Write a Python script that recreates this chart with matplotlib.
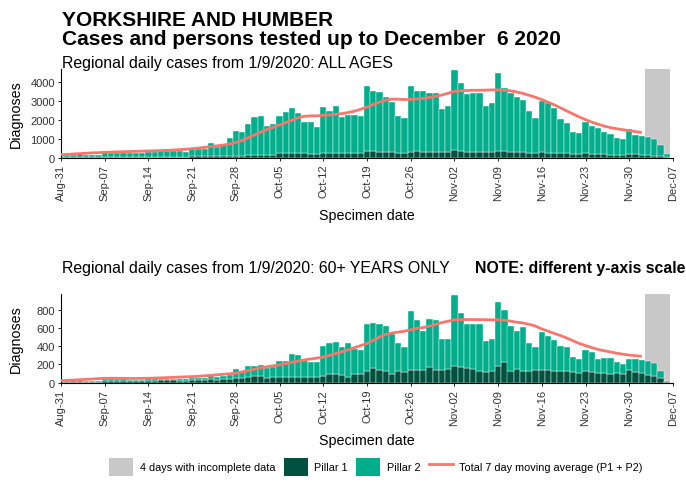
import numpy as np
import pandas as pd
import matplotlib
matplotlib.use("Agg")
import matplotlib.pyplot as plt
from matplotlib.patches import Patch
from matplotlib.lines import Line2D

plt.rcParams['font.family'] = ['Liberation Sans', 'DejaVu Sans']

# specimen dates, 31 Aug to 6 Dec 2020
dates = pd.date_range("2020-08-31", "2020-12-06", freq="D")
tick_labels = ["Aug-31", "Sep-07", "Sep-14", "Sep-21", "Sep-28", "Oct-05", "Oct-12",
               "Oct-19", "Oct-26", "Nov-02", "Nov-09", "Nov-16", "Nov-23", "Nov-30", "Dec-07"]

# ALL AGES
all_p1 = [30, 30, 35, 35, 30, 30, 30, 40, 40, 40, 40, 35, 35, 35, 45, 45, 50, 50, 50, 45, 45,
          60, 60, 70, 70, 80, 70, 80, 110, 110, 120, 130, 140, 120, 130,
          220, 230, 240, 230, 220, 200, 190, 240, 250, 250, 230, 240, 230, 220,
          330, 340, 320, 300, 290, 260, 250, 320, 330, 320, 310, 300, 270, 280,
          380, 360, 320, 320, 300, 270, 280, 370, 340, 300, 290, 280, 250, 240,
          270, 260, 250, 230, 220, 180, 170, 220, 200, 190, 170, 160, 140, 130,
          200, 170, 150, 130, 100, 60, 20]
all_p2 = [50, 90, 115, 135, 130, 120, 110, 280, 210, 220, 220, 205, 185, 195,
          255, 275, 290, 300, 310, 285, 275, 370, 390, 380, 680, 480, 580, 950,
          1310, 1220, 1650, 1990, 2040, 1530, 1620, 1980, 2160, 2380, 2110, 1640, 1660, 1410,
          2450, 2230, 2490, 1930, 2000, 2010, 1950, 3450, 3180, 3150, 2920, 2650, 1940, 1820,
          3460, 3190, 3200, 3120, 3130, 2280, 2450, 4240, 3560, 3020, 3060, 3080, 2460, 2590,
          4080, 3350, 3080, 2880, 2770, 2220, 1830, 2720, 2610, 2340, 1800, 1630, 1150, 1130,
          1670, 1480, 1350, 1200, 1080, 910, 850, 1300, 1040, 1000, 940, 880, 605, 170]
all_avg = [150, 170, 190, 210, 230, 250, 260, 280, 290, 300, 310, 320, 330, 340, 350, 360,
           370, 380, 400, 420, 440, 470, 500, 540, 580, 620, 660, 720, 800, 900, 1050, 1200,
           1350, 1480, 1600, 1720, 1850, 1980, 2100, 2180, 2200, 2200, 2230, 2250, 2280, 2320,
           2380, 2450, 2550, 2660, 2800, 2920, 3030, 3080, 3080, 3060, 3070, 3090, 3120, 3170,
           3230, 3300, 3390, 3490, 3520, 3540, 3550, 3550, 3560, 3570, 3570, 3550, 3520, 3460,
           3380, 3280, 3180, 3060, 2920, 2780, 2620, 2460, 2300, 2140, 2000, 1870, 1760, 1660,
           1580, 1520, 1470, 1420, 1370, 1320]

# 60+ YEARS ONLY
old_p1 = [8, 10, 12, 12, 10, 10, 10, 20, 18, 18, 18, 16, 16, 16, 22, 22, 25, 25, 25, 22, 22,
          30, 28, 30, 35, 32, 35, 40, 46, 50, 60, 68, 68, 55, 60, 60, 57, 57, 57, 57, 57, 60,
          68, 90, 100, 83, 60, 95, 95, 125, 160, 140, 125, 95, 125, 115,
          140, 140, 140, 176, 140, 140, 150, 187, 170, 160, 150, 125, 115, 130,
          187, 231, 125, 150, 125, 125, 140, 140, 140, 125, 125, 125, 115, 105,
          125, 115, 105, 105, 95, 105, 95, 140, 115, 105, 80, 70, 50, 10]
old_p2 = [7, 10, 13, 13, 10, 10, 10, 20, 17, 17, 17, 14, 14, 14, 18, 18, 20, 20, 20, 18, 18,
          25, 22, 16, 33, 25, 33, 43, 103, 80, 118, 117, 125, 105, 107,
          180, 183, 253, 245, 183, 165, 162, 330, 341, 342, 304, 373, 275, 268,
          515, 497, 500, 502, 441, 308, 281, 645, 550, 432, 524, 543, 340, 330,
          778, 597, 486, 496, 521, 347, 350, 697, 562, 502, 415, 491, 308, 250,
          414, 377, 345, 282, 271, 171, 155, 238, 219, 155, 166, 176, 119, 110,
          120, 145, 145, 162, 143, 75, 12]
old_avg = [22, 25, 28, 32, 36, 40, 44, 48, 48, 48, 47, 46, 46, 47, 48, 50, 52, 55, 58, 61,
           64, 66, 70, 75, 80, 86, 92, 98, 103, 118, 133, 148, 163, 175, 185, 195, 210, 225,
           238, 250, 260, 270, 280, 300, 320, 340, 360, 385, 407, 430, 465, 500, 530, 545,
           555, 565, 580, 595, 605, 620, 640, 660, 675, 690, 692, 693, 693, 692, 691, 690,
           690, 685, 675, 664, 655, 640, 620, 590, 565, 540, 517, 490, 460, 430, 407, 385,
           365, 350, 337, 323, 312, 303, 296, 290]

incomplete_days = 4

C_P1 = "#00513F"
C_P2 = "#00AE8C"
C_AVG = "#F8766D"
C_GREY = "#C8C8C8"

fig = plt.figure(figsize=(6.86, 4.85), dpi=100)

fig.text(0.0905, 0.946, "YORKSHIRE AND HUMBER", fontsize=15, fontweight="bold", va="baseline")
fig.text(0.0905, 0.907, "Cases and persons tested up to December  6 2020", fontsize=15,
         fontweight="bold", va="baseline")


def panel(rect, p1, p2, avg, ymax, yticks):
    ax = fig.add_axes(rect)
    x = np.arange(len(dates))
    n = len(dates)
    ax.axvspan(n - incomplete_days - 0.5, n - 0.5, color=C_GREY, lw=0, zorder=0)
    ax.bar(x, p1, width=1.0, color=C_P1, edgecolor="white", linewidth=0.3, zorder=2)
    ax.bar(x, p2, width=1.0, bottom=p1, color=C_P2, edgecolor="white", linewidth=0.3, zorder=2)
    ax.plot(np.arange(len(avg)), avg, color=C_AVG, lw=2, zorder=3, solid_capstyle="butt")
    ax.set_xlim(0, 98)
    ax.set_ylim(0, ymax)
    ax.set_xticks(np.arange(0, 99, 7))
    ax.set_xticklabels(tick_labels, rotation=90, fontsize=8, color="#333333")
    ax.set_yticks(yticks)
    ax.set_yticklabels([str(v) for v in yticks], fontsize=8, color="#333333")
    ax.tick_params(length=2.5, width=0.6, pad=2)
    for s in ["top", "right"]:
        ax.spines[s].set_visible(False)
    for s in ["left", "bottom"]:
        ax.spines[s].set_linewidth(0.8)
    ax.set_ylabel("Diagnoses", fontsize=10.3)
    ax.yaxis.set_label_coords(-0.063, 0.5)
    ax.set_xlabel("Specimen date", fontsize=10.3, labelpad=6)
    return ax


panel([0.089, 0.673, 0.892, 0.183], all_p1, all_p2, all_avg, 4680,
      [0, 1000, 2000, 3000, 4000])
fig.text(0.0905, 0.860, "Regional daily cases from 1/9/2020: ALL AGES", fontsize=11.4,
         va="baseline")

panel([0.089, 0.209, 0.892, 0.183], old_p1, old_p2, old_avg, 975,
      [0, 200, 400, 600, 800])
fig.text(0.0905, 0.437, "Regional daily cases from 1/9/2020: 60+ YEARS ONLY", fontsize=11.4,
         va="baseline")
fig.text(0.999, 0.437, "NOTE: different y-axis scale", fontsize=11.4, fontweight="bold",
         ha="right", va="baseline")

handles = [Patch(facecolor=C_GREY, edgecolor="none"),
           Patch(facecolor=C_P1, edgecolor="none"),
           Patch(facecolor=C_P2, edgecolor="none"),
           Line2D([0], [0], color=C_AVG, lw=2)]
labels = ["4 days with incomplete data", "Pillar 1", "Pillar 2",
          "Total 7 day moving average (P1 + P2)"]
fig.legend(handles, labels, loc="center", bbox_to_anchor=(0.548, 0.035), ncol=4,
           frameon=False, fontsize=7.8, handlelength=2.2, handleheight=2.1,
           columnspacing=0.8, handletextpad=0.6)

fig.savefig("out.png", dpi=100)
